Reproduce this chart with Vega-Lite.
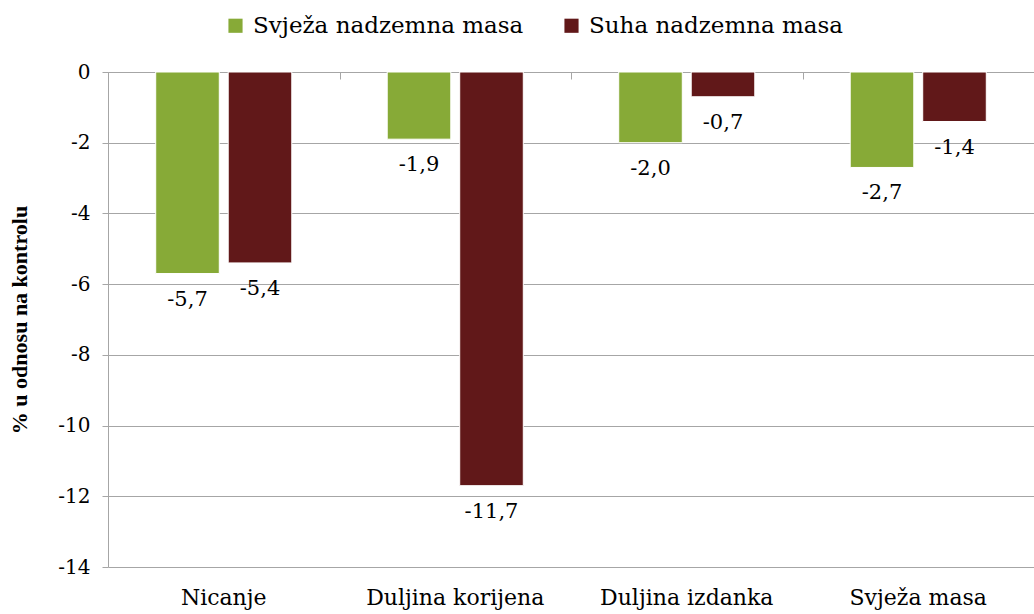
{
  "$schema": "https://vega.github.io/schema/vega-lite/v6.json",
  "width": 926,
  "height": 495,
  "autosize": "none",
  "padding": {"left": 108, "top": 72, "right": 0, "bottom": 47},
  "background": "white",
  "config": {
    "font": "DejaVu Serif",
    "view": {"stroke": null},
    "text": {"font": "DejaVu Serif"},
    "legend": {"labelFont": "DejaVu Serif"},
    "axis": {"labelFont": "DejaVu Serif", "titleFont": "Liberation Serif", "labelColor": "black", "titleColor": "black"}
  },
  "data": {
    "values": [
      {"kat": "Nicanje", "serija": "Svježa nadzemna masa", "v": -5.7, "lab": "-5,7"},
      {"kat": "Nicanje", "serija": "Suha nadzemna masa", "v": -5.4, "lab": "-5,4"},
      {"kat": "Duljina korijena", "serija": "Svježa nadzemna masa", "v": -1.9, "lab": "-1,9"},
      {"kat": "Duljina korijena", "serija": "Suha nadzemna masa", "v": -11.7, "lab": "-11,7"},
      {"kat": "Duljina izdanka", "serija": "Svježa nadzemna masa", "v": -2.0, "lab": "-2,0"},
      {"kat": "Duljina izdanka", "serija": "Suha nadzemna masa", "v": -0.7, "lab": "-0,7"},
      {"kat": "Svježa masa", "serija": "Svježa nadzemna masa", "v": -2.7, "lab": "-2,7"},
      {"kat": "Svježa masa", "serija": "Suha nadzemna masa", "v": -1.4, "lab": "-1,4"}
    ]
  },
  "encoding": {
    "x": {"field": "kat", "type": "nominal", "sort": ["Nicanje", "Duljina korijena", "Duljina izdanka", "Svježa masa"], "scale": {"paddingInner": 0, "paddingOuter": 0}},
    "xOffset": {"field": "serija", "type": "nominal", "sort": ["Svježa nadzemna masa", "Suha nadzemna masa"], "scale": {"paddingInner": 0.123, "paddingOuter": 0.658}},
    "y": {"field": "v", "type": "quantitative", "scale": {"domain": [-14, 0], "nice": false, "zero": false}}
  },
  "layer": [
    {
      "mark": {"type": "bar", "stroke": "white", "strokeWidth": 1},
      "encoding": {
        "x": {"field": "kat", "type": "nominal", "sort": ["Nicanje", "Duljina korijena", "Duljina izdanka", "Svježa masa"], "title": null,
          "axis": {"orient": "bottom", "domain": false, "ticks": false, "labelAngle": 0, "labelFontSize": 22, "labelPadding": 20, "labelBaseline": "top", "grid": false}},
        "y": {"field": "v", "type": "quantitative", "title": "% u odnosu na kontrolu",
          "axis": {"values": [0, -2, -4, -6, -8, -10, -12, -14], "labelExpr": "'' + datum.value", "labelFontSize": 20, "labelPadding": 12, "tickSize": 6, "tickColor": "#a6a6a6", "domainColor": "#a6a6a6", "gridColor": "#a6a6a6", "grid": true, "titleFontSize": 22, "titleFontWeight": "bold", "titlePadding": 26}},
        "color": {"field": "serija", "type": "nominal", "sort": ["Svježa nadzemna masa", "Suha nadzemna masa"],
          "scale": {"range": ["#87aa37", "#611819"]},
          "legend": {"title": null, "orient": "none", "direction": "horizontal", "legendX": 116, "legendY": -58, "symbolType": "square", "symbolSize": 200, "symbolStrokeWidth": 0, "labelFontSize": 23, "labelLimit": 400, "columnPadding": 36, "labelOffset": 6}}
      }
    },
    {
      "mark": {"type": "text", "baseline": "top", "dy": 15, "fontSize": 21, "color": "black"},
      "encoding": {
        "x": {"field": "kat", "type": "nominal", "sort": ["Nicanje", "Duljina korijena", "Duljina izdanka", "Svježa masa"], "title": null,
          "axis": {"orient": "top", "labels": false, "ticks": true, "tickBand": "extent", "tickSize": -7, "tickColor": "#a6a6a6", "domainColor": "#a6a6a6", "grid": false}},
        "text": {"field": "lab"}
      }
    }
  ],
  "resolve": {"axis": {"x": "independent"}}
}
